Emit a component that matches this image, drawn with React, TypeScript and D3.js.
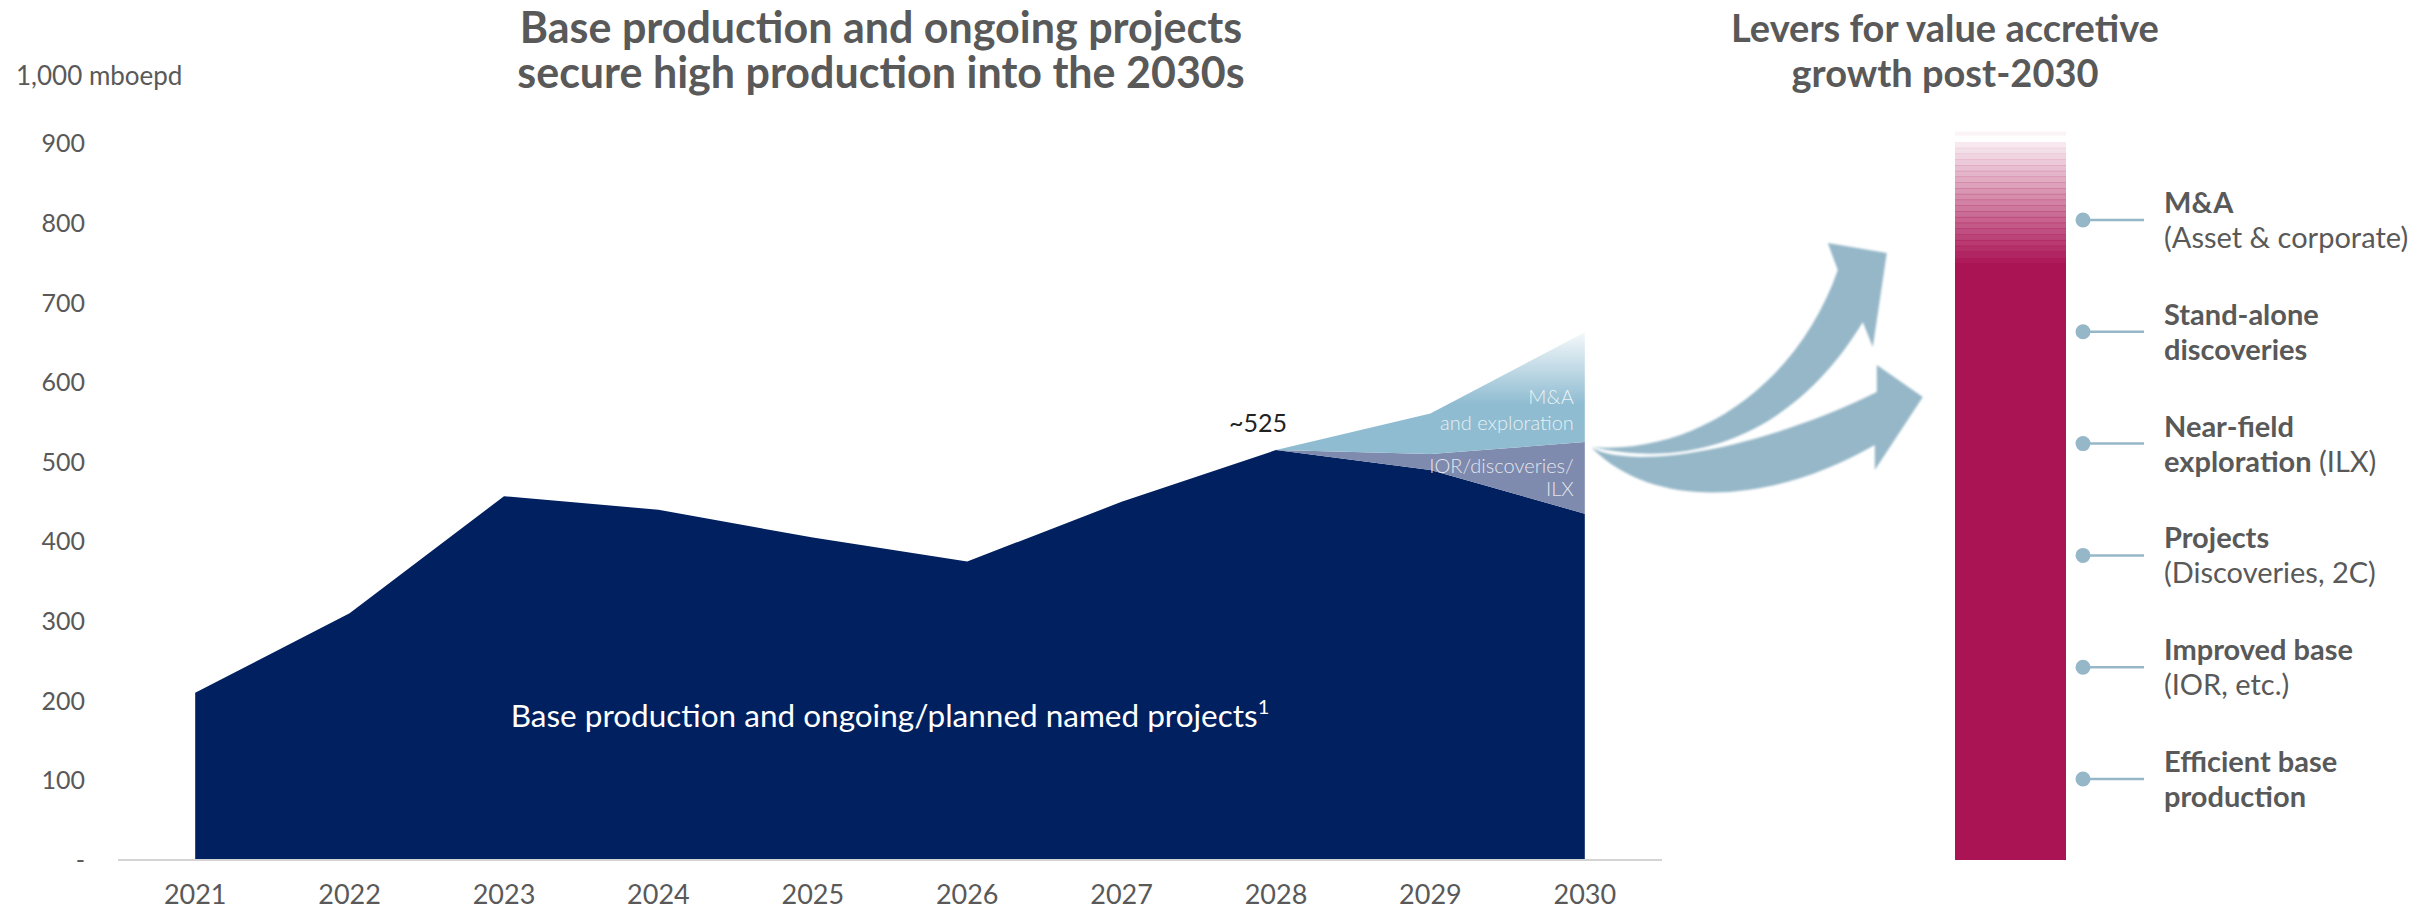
import React from 'react';
import * as d3 from 'd3';

const years = ['2021', '2022', '2023', '2024', '2025', '2026', '2027', '2028', '2029', '2030'];
const baseProduction = [210, 310, 457, 440, 405, 375, 450, 515, 490, 435];
const iorDiscoveriesIlx: (number | null)[] = [null, null, null, null, null, null, null, 0, 20, 90];
const maExploration: (number | null)[] = [null, null, null, null, null, null, null, 0, 51, 138];
const yTicks = [0, 100, 200, 300, 400, 500, 600, 700, 800, 900];

const leverLine1 = ['M&A', 'Stand-alone', 'Near-field', 'Projects', 'Improved base', 'Efficient base'];
const leverLine2Bold = ['', 'discoveries', 'exploration', '', '', 'production'];
const leverLine2Regular = ['(Asset & corporate)', '', '(ILX)', '(Discoveries, 2C)', '(IOR, etc.)', ''];

// post-2030 bar: solid part and faded top
const barSolid = 750;
const barFadeTop = 902;
const barCap = [910, 915];

const W = 2415;
const H = 911;
const FONT = 'Lato, sans-serif';
const GREY = '#595959';
const NAVY = '#00205f';
const LIGHT_BLUE = '#8fbcd1';
const PURPLE_GREY = '#7e8aae';
const MAGENTA = '#aa1455';
const ARROW = '#95b7c8';

const App: React.FC = () => {
  const x = d3.scalePoint<string>().domain(years).range([118, 1662]).padding(0.5);
  const y = d3.scaleLinear().domain([0, 900]).range([860, 143.6]);

  const rows = years.map((yr, i) => {
    const b = baseProduction[i];
    const ior = iorDiscoveriesIlx[i];
    const ma = maExploration[i];
    return {
      yr,
      base: b,
      iorTop: ior == null ? null : b + ior,
      maTop: ior == null || ma == null ? null : b + ior + ma,
    };
  });
  type Row = typeof rows[number];

  const baseArea = d3.area<Row>()
    .x(d => x(d.yr)!)
    .y0(y(0))
    .y1(d => y(d.base));
  const iorArea = d3.area<Row>()
    .defined(d => d.iorTop != null)
    .x(d => x(d.yr)!)
    .y0(d => y(d.base))
    .y1(d => y(d.iorTop as number));
  const maArea = d3.area<Row>()
    .defined(d => d.maTop != null)
    .x(d => x(d.yr)!)
    .y0(d => y(d.iorTop as number))
    .y1(d => y(d.maTop as number));

  const x2028 = x('2028')!;
  const x2030 = x('2030')!;
  const maxTop = d3.max(rows, d => d.maTop ?? 0)!;

  // decorative arrows, anchored at the 2030 edge of the stack
  const ax = x2030 + 7;
  const ay = y(525) + 5;
  const up = d3.path();
  up.moveTo(ax, ay);
  up.bezierCurveTo(ax + 108, ay + 8, ax + 208, ay - 67, ax + 246, ay - 177);
  up.lineTo(ax + 236, ay - 204);
  up.lineTo(ax + 295, ay - 194);
  up.lineTo(ax + 281, ay - 100);
  up.lineTo(ax + 271, ay - 125);
  up.bezierCurveTo(ax + 218, ay - 37, ax + 128, ay + 28, ax, ay);
  up.closePath();
  const low = d3.path();
  low.moveTo(ax, ay + 1);
  low.bezierCurveTo(ax + 48, ay + 25, ax + 178, ay - 2, ax + 285, ay - 55);
  low.lineTo(ax + 285, ay - 82);
  low.lineTo(ax + 331, ay - 50);
  low.lineTo(ax + 283, ay + 23);
  low.lineTo(ax + 283, ay - 2);
  low.bezierCurveTo(ax + 188, ay + 53, ax + 68, ay + 68, ax, ay + 1);
  low.closePath();

  // lever bar
  const barX = 1955;
  const barW = 111;
  const nStripes = 21;
  const stripeH = (y(barSolid) - y(barFadeTop)) / nStripes;
  const stripes = d3.range(nStripes).map(i => ({
    y: y(barFadeTop) + i * stripeH,
    op: 0.05 + (0.92 * (i + 1)) / nStripes,
  }));

  const leverY = d3.scalePoint<number>().domain(d3.range(leverLine1.length)).range([220, 779]);

  return (
    <div style={{ position: 'absolute', left: 0, top: 0 }}>
      <svg width={W} height={H} style={{ display: 'block', background: '#fff' }} fontFamily={FONT}>
        <defs>
          <linearGradient id="maFade" gradientUnits="userSpaceOnUse" x1="0" x2="0" y1={y(maxTop) - 8} y2={y(maxTop) + 72}>
            <stop offset="0" stopColor={LIGHT_BLUE} stopOpacity={0} />
            <stop offset="1" stopColor={LIGHT_BLUE} stopOpacity={1} />
          </linearGradient>
          <filter id="soft" x="-5%" y="-5%" width="110%" height="110%">
            <feGaussianBlur stdDeviation="0.8" />
          </filter>
        </defs>

        {/* titles */}
        <text textAnchor="middle" fontSize={43} fontWeight={700} fill={GREY}>
          <tspan x={881} y={43}>Base production and ongoing projects</tspan>
          <tspan x={881} y={88}>secure high production into the 2030s</tspan>
        </text>
        <text textAnchor="middle" fontSize={38} fontWeight={700} fill={GREY}>
          <tspan x={1945} y={42}>Levers for value accretive</tspan>
          <tspan x={1945} y={87}>growth post-2030</tspan>
        </text>

        <text x={16} y={85} fontSize={26} fill={GREY}>1,000 mboepd</text>

        {/* y tick labels */}
        {yTicks.map(t => (
          <text key={t} x={85} y={y(t)} dy="0.35em" textAnchor="end" fontSize={25} fill={GREY}>
            {t === 0 ? '-' : t}
          </text>
        ))}

        {/* areas */}
        <path d={baseArea(rows) ?? ''} fill={NAVY} />
        <path d={iorArea(rows) ?? ''} fill={PURPLE_GREY} />
        <path d={maArea(rows) ?? ''} fill="url(#maFade)" />

        {/* x axis */}
        <line x1={118} x2={1662} y1={y(0)} y2={y(0)} stroke="#d4d4d4" strokeWidth={2} />
        {years.map(yr => (
          <text key={yr} x={x(yr)} y={904} textAnchor="middle" fontSize={27} fill={GREY}>{yr}</text>
        ))}

        {/* annotations */}
        <text x={890} y={727} textAnchor="middle" fontSize={31.5} fill="#fff">
          Base production and ongoing/planned named projects
          <tspan fontSize={20} dy={-13}>1</tspan>
        </text>
        <text x={x2028 - 18} y={432} textAnchor="middle" fontSize={25} fill="#222">~525</text>
        <g fontSize={20} fontWeight={300} fill="#fff" fillOpacity={0.8} textAnchor="end">
          <text x={x2030 - 11} y={404}>M&amp;A</text>
          <text x={x2030 - 11} y={430}>and exploration</text>
          <text x={x2030 - 11} y={473}>IOR/discoveries/</text>
          <text x={x2030 - 11} y={496}>ILX</text>
        </g>

        {/* arrows */}
        <g fill={ARROW} filter="url(#soft)">
          <path d={low.toString()} />
          <path d={up.toString()} />
        </g>

        {/* lever bar */}
        <rect x={barX} y={y(barCap[1])} width={barW} height={y(barCap[0]) - y(barCap[1])} fill={MAGENTA} fillOpacity={0.05} />
        {stripes.map((s, i) => (
          <rect key={i} x={barX} y={s.y} width={barW} height={stripeH + 0.5} fill={MAGENTA} fillOpacity={s.op} />
        ))}
        <rect x={barX} y={y(barSolid)} width={barW} height={y(0) - y(barSolid)} fill={MAGENTA} />

        {/* levers legend */}
        {leverLine1.map((l1, i) => {
          const cy = leverY(i)!;
          return (
            <g key={l1}>
              <circle cx={2083} cy={cy} r={7.5} fill={ARROW} />
              <line x1={2083} x2={2144} y1={cy} y2={cy} stroke={ARROW} strokeWidth={2.5} />
              <text x={2164} y={cy - 7} fontSize={29} fontWeight={700} fill={GREY}>{l1}</text>
              <text x={2164} y={cy + 28} fontSize={29} fill={GREY}>
                {leverLine2Bold[i] && <tspan fontWeight={700}>{leverLine2Bold[i]}</tspan>}
                {leverLine2Bold[i] && leverLine2Regular[i] ? ' ' : ''}
                {leverLine2Regular[i] && <tspan>{leverLine2Regular[i]}</tspan>}
              </text>
            </g>
          );
        })}
      </svg>
    </div>
  );
};

export default App;
